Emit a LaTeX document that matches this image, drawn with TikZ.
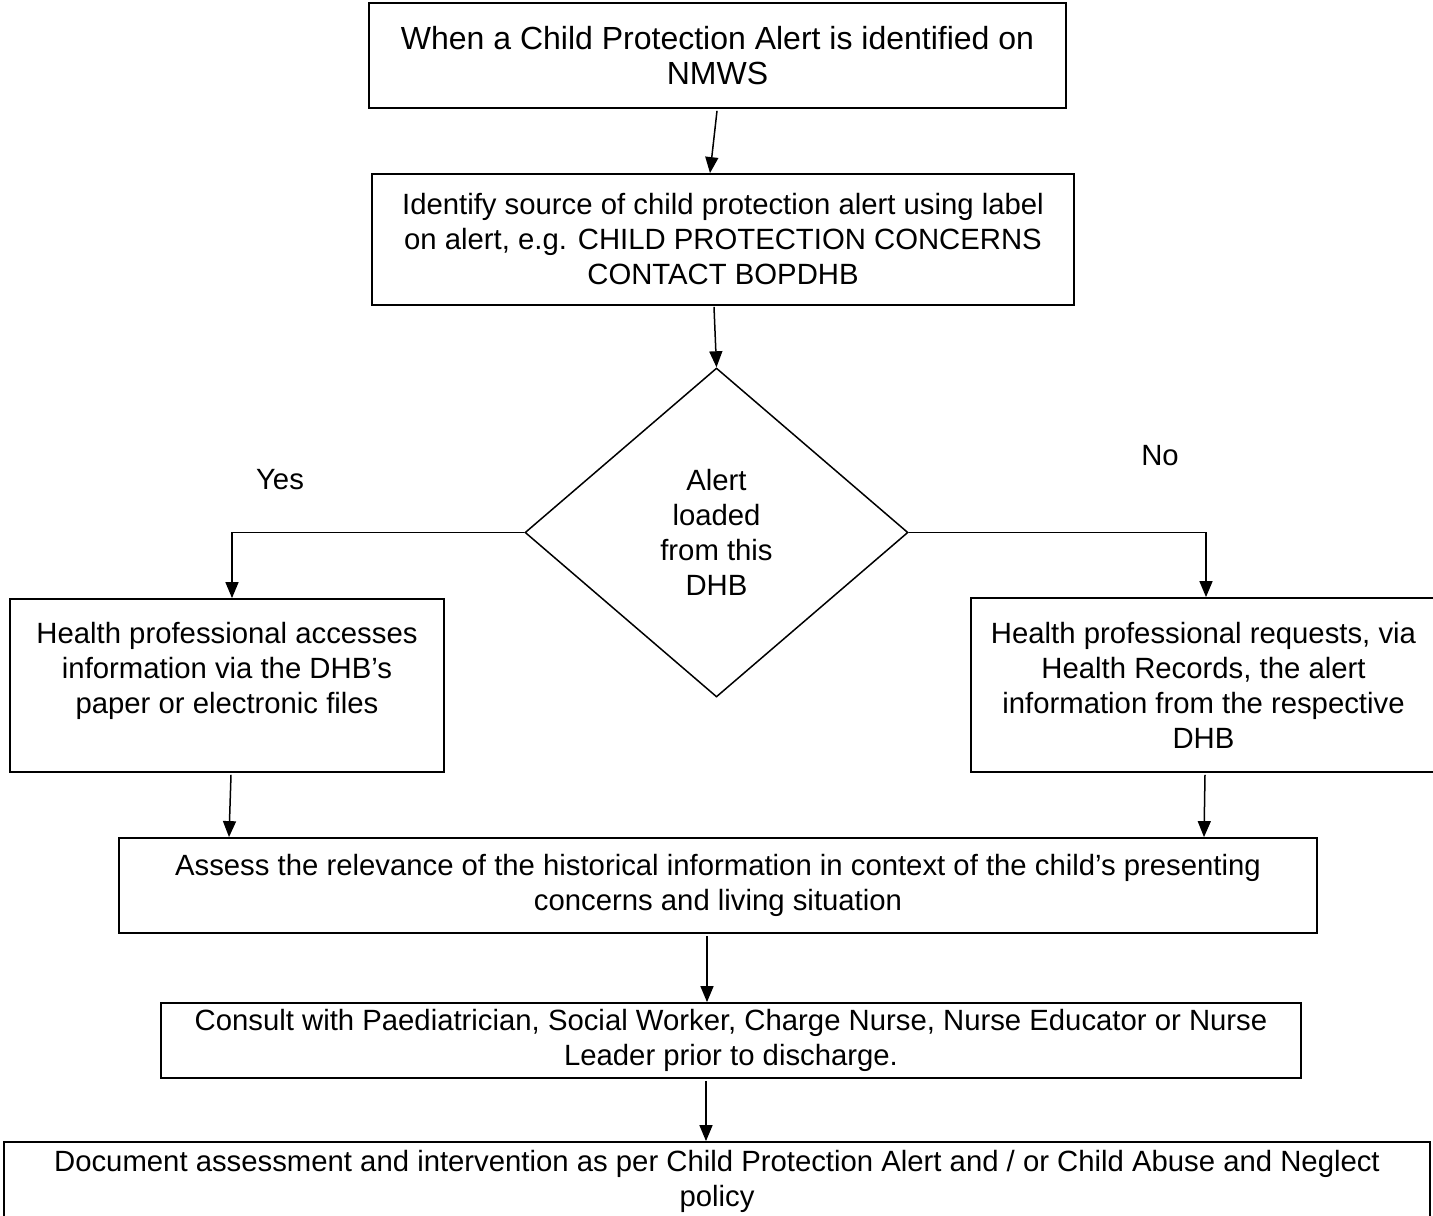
\documentclass[tikz,border=0pt]{standalone}
\usepackage{fontspec}
\setmainfont{Liberation Sans}
\usetikzlibrary{arrows.meta,shapes.geometric}
\begin{document}
\begin{tikzpicture}[x=1pt,y=-1pt,
  every node/.style={font=\fontsize{29.3}{35}\selectfont},
  box/.style={draw, line width=1.8pt, inner sep=0pt, align=center},
  dia/.style={draw, line width=1.5pt, diamond, inner sep=0pt, align=center},
  arr/.style={line width=1.5pt, -{Triangle[length=16pt,width=13pt]}},
  lbl/.style={inner sep=0pt}]
\useasboundingbox (0,0) rectangle (1433,1216);
\node[box, minimum width=697pt, minimum height=105pt, font=\fontsize{32}{35}\selectfont] (b1) at (717.5,55.5)
  {When a Child Protection Alert is identified on\\NMWS};
\node[box, minimum width=702pt, minimum height=131pt] (b2) at (723,239.5)
  {Identify source of child protection alert using label\\on alert, e.g. CHILD PROTECTION CONCERNS\\CONTACT BOPDHB};
\node[dia, minimum width=383pt, minimum height=329pt] (d) at (716.5,532.5)
  {Alert\\loaded\\from this\\DHB};
\node[box, minimum width=434pt, minimum height=173pt] (hl) at (227,685.5)
  {Health professional accesses\\information via the DHB’s\\paper or electronic files\\\mbox{}};
\node[box, minimum width=465pt, minimum height=174pt] (hr) at (1203.5,685)
  {Health professional requests, via\\Health Records, the alert\\information from the respective\\DHB};
\node[box, minimum width=1198pt, minimum height=95pt] (as) at (718,885.5)
  {Assess the relevance of the historical information in context of the child’s presenting\\concerns and living situation};
\node[box, minimum width=1140pt, minimum height=75pt] (co) at (731,1040.5)
  {Consult with Paediatrician, Social Worker, Charge Nurse, Nurse Educator or Nurse\\Leader prior to discharge.};
\node[box, minimum width=1426pt, minimum height=78pt] (doc) at (717,1181)
  {Document assessment and intervention as per Child Protection Alert and / or Child Abuse and Neglect\\policy};
\node[lbl] (yes) at (280,480) {Yes};
\node[lbl] (no) at (1160,456) {No};
\draw[arr] ([xshift=-0.5pt,yshift=-2pt]b1.south) -- ([xshift=-13pt]b2.north);
\draw[arr] ([xshift=-9pt,yshift=-1pt]b2.south) -- (d.north);
\draw[arr] (d.west) -| ([xshift=5pt]hl.north);
\draw[arr] (d.east) -| ([xshift=2.5pt]hr.north);
\draw[arr] ([xshift=4pt,yshift=-2pt]hl.south) -- ([xshift=-489pt]as.north);
\draw[arr] ([xshift=1.5pt,yshift=-2pt]hr.south) -- ([xshift=486pt]as.north);
\draw[arr] ([xshift=-11pt,yshift=-2pt]as.south) -- ([xshift=-24pt]co.north);
\draw[arr] ([xshift=-25pt,yshift=-2pt]co.south) -- ([xshift=-11pt]doc.north);
\end{tikzpicture}
\end{document}
